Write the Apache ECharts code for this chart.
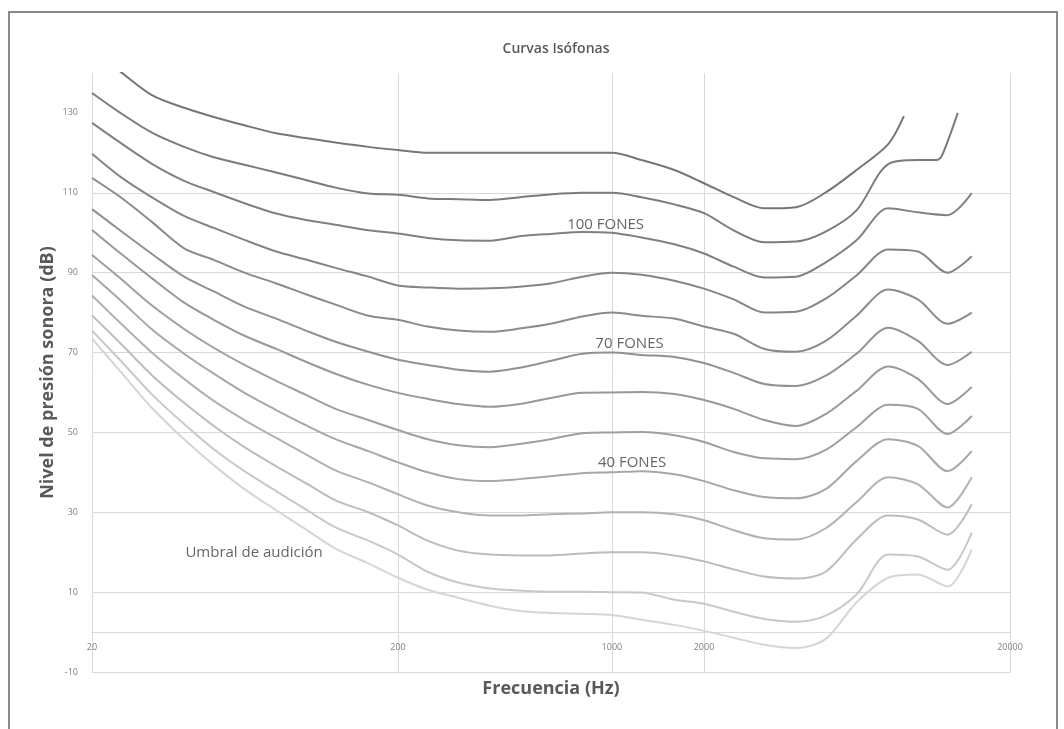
<!DOCTYPE html>
<html><head><meta charset="utf-8">
<script src="https://cdn.jsdelivr.net/npm/echarts@6/dist/echarts.min.js"></script>
<style>
html,body{margin:0;padding:0;background:#fff;width:1064px;height:729px;overflow:hidden}
#frame{position:absolute;left:8px;top:11px;width:1050px;height:760px;border:2px solid #8a8a8a;box-sizing:border-box}
#chart{position:absolute;left:0;top:0;width:1064px;height:729px}
</style></head><body>
<div id="frame"></div><div id="chart"></div>
<script>
// ---- data (frequency in Hz, level in dB) ----
const FREQS = [20, 25, 31.5, 40, 50, 63, 80, 100, 125, 160, 200, 250, 315, 400, 500, 630, 800, 1000,
  1250, 1600, 2000, 2500, 3150, 4000, 5000, 6300, 8000, 9000, 10000, 11500, 12000, 12500, 13500, 15000];

const P120 = [146.1, 140.1, 134.4, 131.3, 129.0, 126.9, 124.9, 123.7, 122.6, 121.5, 120.7, 120, 120, 120, 120, 120, 120, 120,
  118.2, 115.7, 112.4, 108.9, 106.1, 106.4, 110.1, 115.7, 122.2, 129.2, null, null, null, null, null, null];
const P110 = [135.0, 129.8, 125.0, 121.5, 118.9, 117.0, 115.1, 113.2, 111.3, 109.8, 109.5, 108.6, 108.4, 108.2, 108.9, 109.6, 110, 110,
  108.9, 107.1, 104.9, 100.6, 97.6, 97.8, 100.3, 105.6, 117.2, null, 118.2, 118.2, 119.4, null, 130, null];
const P100 = [127.5, 122.3, 117.2, 113.0, 110.2, 107.4, 104.8, 103.2, 102.0, 100.6, 99.8, 98.7, 98.1, 98.0, 99.1, 99.7, 100.2, 100,
  98.8, 97.1, 94.8, 91.5, 88.8, 89.0, 92.6, 98.1, 106.1, null, 105.1, null, null, 104.4, null, 109.9];
const P90 = [119.8, 113.8, 108.8, 104.2, 101.2, 98.2, 95.3, 93.3, 91.2, 89.0, 86.8, 86.3, 86.0, 86.1, 86.5, 87.3, 89.0, 90,
  89.5, 88.0, 86.0, 83.3, 80.0, 80.2, 83.5, 89.3, 95.8, null, 95.3, null, null, 90.0, null, 94.1];
const P80 = [113.7, 108.7, 102.6, 96.1, 93.2, 90.0, 87.3, 84.6, 82.0, 79.2, 78.2, 76.5, 75.5, 75.2, 76.0, 77.2, 79.0, 80,
  79.2, 78.5, 76.5, 74.7, 70.9, 70.2, 72.9, 79.2, 85.8, null, 83.3, null, null, 77.2, null, 80.0];
const P70 = [105.9, 100.3, 94.6, 89.0, 85.3, 81.5, 78.5, 75.5, 72.7, 70.2, 68.2, 66.9, 65.7, 65.2, 66.2, 67.9, 69.7, 70,
  69.4, 68.9, 67.4, 64.9, 62.1, 61.6, 64.2, 69.7, 76.2, null, 72.9, null, null, 66.9, null, 70.2];
const P60 = [100.7, 94.6, 88.5, 82.5, 78.2, 74.2, 70.9, 67.7, 64.7, 61.9, 59.9, 58.4, 57.1, 56.4, 57.1, 58.6, 59.9, 60,
  60.1, 59.6, 58.1, 55.9, 53.1, 51.6, 54.6, 60.4, 66.5, null, 63.4, null, null, 57.1, null, 61.4];
const P50 = [94.4, 88.3, 81.7, 75.9, 71.2, 66.9, 62.9, 59.4, 55.9, 53.1, 50.6, 48.3, 46.8, 46.3, 47.1, 48.3, 49.8, 50,
  50.1, 49.3, 47.6, 45.1, 43.5, 43.3, 45.6, 51.3, 56.9, null, 55.9, null, null, 49.6, null, 54.1];
const P40 = [89.4, 82.8, 75.7, 69.7, 64.7, 59.9, 55.6, 51.8, 48.3, 45.3, 42.5, 40.0, 38.3, 37.8, 38.3, 39.0, 39.8, 40,
  40.3, 39.5, 37.8, 35.5, 33.8, 33.5, 35.8, 42.8, 48.3, null, 46.6, null, null, 40.3, null, 45.3];
const P30 = [84.3, 77.1, 69.9, 63.4, 57.9, 53.1, 48.6, 44.5, 40.5, 37.5, 34.5, 31.7, 30.0, 29.2, 29.2, 29.5, 29.7, 30,
  30.0, 29.5, 28.0, 25.5, 23.5, 23.2, 26.0, 32.5, 38.8, null, 37.0, null, null, 31.2, null, 38.8];
const P20 = [79.3, 72.0, 64.2, 57.4, 51.6, 46.3, 41.5, 37.3, 33.0, 30.0, 26.7, 22.9, 20.4, 19.4, 19.2, 19.2, 19.7, 20,
  20, 19.2, 17.7, 15.7, 13.9, 13.4, 15.1, 23.2, 29.2, null, 28.2, null, null, 24.4, null, 32.0];
const P10 = [75.5, 67.7, 59.4, 52.1, 45.8, 40.3, 35.3, 30.7, 26.2, 22.9, 19.4, 15.1, 12.4, 10.9, 10.4, 10.1, 10.1, 10,
  9.9, 8.1, 7.1, 5.1, 3.3, 2.6, 4.1, 9.4, 19.4, null, 18.9, null, null, 15.6, null, 24.9];
const UMBRAL = [73.5, 64.9, 56.0, 48.3, 41.8, 35.8, 30.5, 25.7, 20.9, 17.2, 13.6, 10.6, 8.6, 6.6, 5.3, 4.8, 4.6, 4.3,
  3.1, 1.8, 0.3, -1.4, -3.2, -4.0, -1.7, 7.4, 13.6, null, 14.4, null, null, 11.4, null, 20.7];

const CURVE_NAMES = ['120 fonos', '110 fonos', '100 fonos', '90 fonos', '80 fonos', '70 fonos', '60 fonos',
  '50 fonos', '40 fonos', '30 fonos', '20 fonos', '10 fonos', 'Umbral'];
const CURVES = [P120, P110, P100, P90, P80, P70, P60, P50, P40, P30, P20, P10, UMBRAL];

const X_TICKS = [20, 200, 1000, 2000, 20000];
const Y_TICKS = [-10, 10, 30, 50, 70, 90, 110, 130];

const NOTE_FREQ = [954, 1142, 1164, 67.7];
const NOTE_DB = [102.1, 72.2, 42.5, 19.8];
const NOTE_TEXT = ['100 FONES', '70 FONES', '40 FONES', 'Umbral de audición'];

// ---- styling ----
const COLORS = ['#767676', '#7b7b7b', '#808080', '#858585', '#8b8b8b', '#919191', '#989898',
  '#9f9f9f', '#a7a7a7', '#b1b1b1', '#bcbcbc', '#c8c8c8', '#d5d5d5'];

const series = CURVES.map((vals, k) => ({
  name: CURVE_NAMES[k],
  type: 'line',
  data: FREQS.map((f, i) => [f, vals[i]]).filter(p => p[1] !== null),
  showSymbol: false,
  symbol: 'none',
  smooth: 0.3,
  clip: true,
  lineStyle: { width: 2, color: COLORS[k] },
  itemStyle: { color: COLORS[k] },
  z: 3
}));

series.push({
  name: 'notas',
  type: 'scatter',
  data: NOTE_FREQ.map((f, i) => [f, NOTE_DB[i], NOTE_TEXT[i]]),
  symbolSize: 1,
  itemStyle: { color: 'rgba(0,0,0,0)' },
  label: {
    show: true, position: 'inside',
    formatter: p => p.data[2],
    color: '#404040', fontSize: 15, fontFamily: 'Open Sans'
  },
  z: 5
});

const chart = echarts.init(document.getElementById('chart'), null, { renderer: 'canvas' });
chart.setOption({
  animation: false,
  backgroundColor: 'transparent',
  title: {
    text: 'Curvas Isófonas', left: 551, textAlign: 'center', top: 37,
    textStyle: { fontFamily: 'Open Sans', fontSize: 14, fontWeight: 600, color: '#595959' }
  },
  grid: { left: 92, right: 54, top: 73, bottom: 57, outerBoundsMode: 'none', containLabel: false },
  xAxis: {
    type: 'log', logBase: 10, min: 20, max: 20000,
    name: 'Frecuencia (Hz)', nameLocation: 'middle', nameGap: 8, nameMoveOverlap: false,
    nameTextStyle: { fontFamily: 'Open Sans', fontSize: 18, fontWeight: 'bold', color: '#595959' },
    axisLine: { onZero: true, lineStyle: { color: '#d9d9d9', width: 1 } },
    axisTick: { show: false, customValues: X_TICKS },
    axisLabel: { customValues: X_TICKS, formatter: v => String(v), fontSize: 9, color: '#7f7f7f', margin: -29, fontFamily: 'Open Sans' },
    splitLine: { show: true, lineStyle: { color: '#d9d9d9', width: 1 } },
    minorTick: { show: false }, minorSplitLine: { show: false }
  },
  yAxis: {
    type: 'value', min: -10, max: 140,
    name: 'Nivel de presión sonora (dB)', nameLocation: 'middle', nameGap: 35, nameRotate: 90, nameMoveOverlap: false,
    nameTextStyle: { fontFamily: 'Open Sans', fontSize: 18, fontWeight: 'bold', color: '#595959' },
    axisLine: { show: false, onZero: false },
    axisTick: { show: false, customValues: Y_TICKS },
    axisLabel: { customValues: Y_TICKS, fontSize: 9, color: '#7f7f7f', margin: 14, fontFamily: 'Open Sans' },
    splitLine: { show: true, showMaxLine: false, lineStyle: { color: '#d9d9d9', width: 1 } }
  },
  series: series
});
</script></body></html>
